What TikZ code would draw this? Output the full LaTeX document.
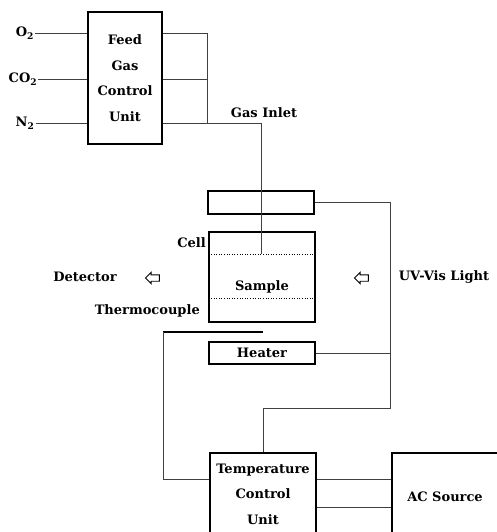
\documentclass[tikz,border=0pt]{standalone}
\usepackage{fontspec}
\setmainfont{DejaVu Serif}
\usepackage{tikz}
\usetikzlibrary{positioning,shapes.arrows,calc}

\begin{document}
\begin{tikzpicture}[x=1pt, y=-1pt,
    unit/.style={draw, line width=1.3pt, minimum width=106pt, align=center, inner sep=0pt, font=\fontsize{13}{25.5}\selectfont\bfseries},
    wire/.style={line width=0.6pt, black!75},
    label/.style={font=\fontsize{13}{15}\selectfont\bfseries, inner sep=1pt},
    dots/.style={dotted, line width=0.6pt},
    lamp/.style={single arrow, draw, line width=0.9pt, shape border rotate=180, minimum height=14pt, single arrow head extend=2.5pt, inner sep=0pt}
]
\useasboundingbox (0,0) rectangle (497,532);

% Gas feed
\node[unit, minimum width=74pt, minimum height=132pt] (feed) at (125,78) {Feed\\Gas\\Control\\Unit};
\node[label] (o2) at (25,33) {O\textsubscript{2}};
\node[label] (co2) at (23,79) {CO\textsubscript{2}};
\node[label] (n2) at (25,123) {N\textsubscript{2}};
\coordinate (junc) at (207,123);
\coordinate (inlet) at (261,254);

% Cell stack
\node[unit, minimum height=23pt] (window) at (261,202.5) {};
\node[unit, minimum height=90pt] (cell) at (262,277) {};
\node[unit, minimum height=22pt] (heater) at (262,353) {Heater};
\node[label] (sample) at (262,287) {Sample};
\node[label, anchor=east] (celllbl) at (207,243) {Cell};
\node[label, anchor=east] (thermo) at (201,311) {Thermocouple};
\node[label] (gasin) at (264,113) {Gas Inlet};

% Optical path
\node[label] (det) at (85,277) {Detector};
\node[lamp] (arrL) at (154,278) {\rule{0pt}{5.5pt}};
\node[lamp] (arrR) at (363,278) {\rule{0pt}{5.5pt}};
\node[label] (uv) at (444,277) {UV-Vis Light};

% Control units
\node[unit, minimum height=82pt] (temp) at (263,494) {Temperature\\Control\\Unit};
\node[unit, minimum height=88pt] (ac) at (445,497) {AC Source};
\coordinate (rbus) at (390,408);
\coordinate (tcl) at (163,332);
\coordinate (tcr) at (263,332);

% Gas lines
\draw[wire] (o2.east) -- (feed.west |- o2);
\draw[wire] (co2.east) -- (feed.west |- co2);
\draw[wire] (n2.east) -- (feed.west |- n2);
\draw[wire] (feed.east |- o2) -| (junc);
\draw[wire] (feed.east |- co2) -- (junc |- co2);
\draw[wire] (feed.east |- n2) -- (inlet |- n2) -- (inlet);

% Sample layers
\draw[dots] (cell.west |- inlet) -- (cell.east |- inlet);
\draw[dots] (cell.west |- 0,298) -- (cell.east |- 0,298);

% Power lines
\draw[wire] (window.east) -| (rbus) -| (temp.north);
\draw[wire] (heater.east) -- (heater.east -| rbus);
\draw[line width=1.3pt] (tcl) -- (tcr);
\draw[wire] (tcl) |- ($(temp.north west)+(0,27)$);
\draw[wire] ($(temp.north east)+(0,27)$) -- ($(ac.north west)+(0,27)$);
\draw[wire] ($(temp.north east)+(0,55)$) -- ($(ac.north west)+(0,55)$);

\end{tikzpicture}
\end{document}
